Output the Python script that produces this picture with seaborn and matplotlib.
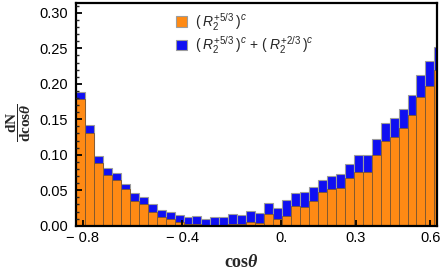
import numpy as np
import pandas as pd
import seaborn as sns
import matplotlib.pyplot as plt
from matplotlib.patches import Patch
from matplotlib.ticker import MultipleLocator

# bin layout (41 bins, last one cut by the frame)
bin_start = -0.827
bin_width = 0.0361
n_bins = 41

# orange bars: (R2^{+5/3})^c
orange_heights = [0.179, 0.130, 0.0887, 0.0718, 0.0647, 0.0516, 0.035, 0.030, 0.0195, 0.0124,
                  0.0088, 0.005, 0.002, 0.0025, 0.0005, 0.0, 0.0, 0.002, 0.0025, 0.005,
                  0.0045, 0.016, 0.0096, 0.0144, 0.0285, 0.027, 0.0342, 0.0469, 0.0511, 0.0534,
                  0.0671, 0.076, 0.0751, 0.0992, 0.119, 0.1246, 0.138, 0.156, 0.181, 0.197, 0.219]
# blue bars: total (R2^{+5/3})^c + (R2^{+2/3})^c
total_heights = [0.188, 0.142, 0.0977, 0.082, 0.0737, 0.059, 0.0455, 0.040, 0.030, 0.022,
                 0.019, 0.0158, 0.012, 0.0136, 0.009, 0.012, 0.012, 0.016, 0.015, 0.0205,
                 0.0177, 0.032, 0.0247, 0.036, 0.046, 0.0477, 0.0548, 0.0643, 0.0704, 0.0727,
                 0.0873, 0.0992, 0.0992, 0.1222, 0.1448, 0.152, 0.164, 0.184, 0.212, 0.232, 0.2525]

x_ticks = [-0.8, -0.4, 0.0, 0.3, 0.6]
x_tick_labels = ['\u2212 0.8', '\u2212 0.4', '0.', '0.3', '0.6']
y_ticks = [0.00, 0.05, 0.10, 0.15, 0.20, 0.25, 0.30]
y_tick_labels = ['0.00', '0.05', '0.10', '0.15', '0.20', '0.25', '0.30']

legend_labels = [r'$(\;R_2^{+5/3}\,)^c$',
                 r'$(\;R_2^{+5/3}\,)^c\, + \,(\;R_2^{+2/3}\,)^c$']

edges = list(bin_start + bin_width * np.arange(n_bins + 1))
centers = [e + bin_width / 2 for e in edges[:-1]]
df = pd.DataFrame({'cos': centers, 'orange': orange_heights, 'total': total_heights})

sns.set_style('ticks')
plt.rcParams['font.family'] = ['Liberation Sans', 'DejaVu Sans']
plt.rcParams['mathtext.fontset'] = 'custom'
plt.rcParams['mathtext.rm'] = 'Liberation Sans'
plt.rcParams['mathtext.it'] = 'Liberation Sans:italic'
plt.rcParams['mathtext.bf'] = 'Liberation Serif:bold'
plt.rcParams['mathtext.bfit'] = 'Liberation Serif:bold:italic'

orange = '#ff8a14'
blue = '#0f0ff2'

fig = plt.figure(figsize=(4.42, 2.70), dpi=100)
ax = fig.add_axes([0.172, 0.164, 0.817, 0.825])

# total (blue) first, then the orange part drawn over it
sns.histplot(data=df, x='cos', weights='total', bins=edges, color=blue, alpha=1,
             edgecolor='#9c9c9c', linewidth=0.8, ax=ax)
sns.histplot(data=df, x='cos', weights='orange', bins=edges, color=orange, alpha=1,
             edgecolor='#7a5530', linewidth=0.6, ax=ax)

ax.set_xlim(-0.827, 0.628)
ax.set_ylim(0, 0.314)
ax.set_xticks(x_ticks)
ax.set_xticklabels(x_tick_labels)
ax.set_yticks(y_ticks)
ax.set_yticklabels(y_tick_labels)
ax.yaxis.set_minor_locator(MultipleLocator(0.01))
ax.tick_params(axis='both', which='major', direction='in', length=4, width=1.3,
               labelsize=10.5, colors='black')
ax.tick_params(axis='y', which='major', pad=6)
ax.tick_params(axis='x', which='major', pad=4)
ax.tick_params(axis='y', which='minor', direction='in', length=2.5, width=1.0)
for s in ax.spines.values():
    s.set_visible(True)
    s.set_linewidth(1.6)
    s.set_color('black')
ax.set_axisbelow(False)

ax.set_xlabel(r'$\mathbf{cos}\mathbfit{\theta}$', fontsize=13)
ax.xaxis.set_label_coords(0.457, -0.125)
ax.set_ylabel(r'$\dfrac{\mathbf{dN}}{\mathbf{dcos}\mathbfit{\theta}}$', fontsize=11)
ax.yaxis.set_label_coords(-0.118, 0.461)

handles = [Patch(facecolor=orange, edgecolor='#9c9c9c', linewidth=0.8),
           Patch(facecolor=blue, edgecolor='#9c9c9c', linewidth=0.8)]
ax.legend(handles, legend_labels, loc='upper left', bbox_to_anchor=(0.262, 0.99),
          frameon=False, fontsize=10, handlelength=0.75, handleheight=0.75,
          handletextpad=0.6, labelspacing=0.12, borderaxespad=0)

fig.savefig('out.png', dpi=100)
